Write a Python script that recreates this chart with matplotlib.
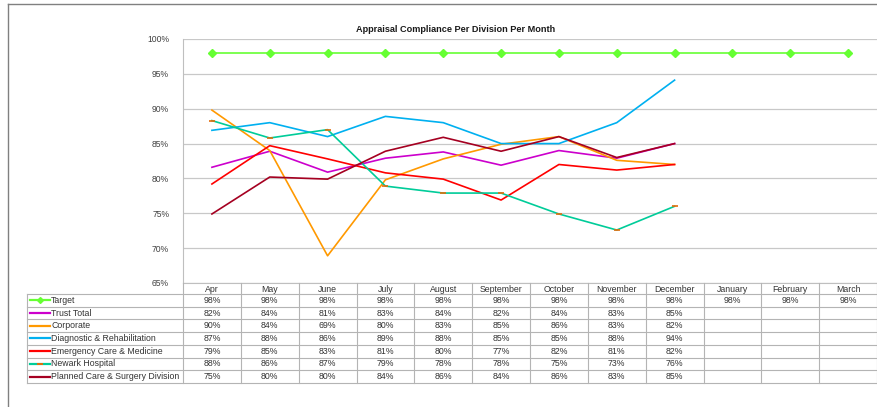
import numpy as np
import matplotlib
matplotlib.use("Agg")
import matplotlib.pyplot as plt
from matplotlib.lines import Line2D

plt.rcParams['font.family'] = ['Liberation Sans', 'DejaVu Sans']

# Months of the financial year
months = ['Apr', 'May', 'June', 'July', 'August', 'September', 'October',
          'November', 'December', 'January', 'February', 'March']

# Series values (%), None where no data yet
target = [98, 98, 98, 98, 98, 98, 98, 98, 98, 98, 98, 98]
trust_total = [81.6, 83.9, 80.9, 82.9, 83.8, 81.9, 84.0, 82.9, 85.0, None, None, None]
corporate = [89.8, 84.0, 68.9, 79.8, 82.8, 84.9, 86.0, 82.6, 82.0, None, None, None]
diagnostic = [86.9, 88.0, 86.0, 88.9, 88.0, 85.0, 85.0, 88.0, 94.1, None, None, None]
emergency = [79.2, 84.7, 82.8, 80.8, 79.9, 76.9, 82.0, 81.2, 82.0, None, None, None]
newark = [88.3, 85.8, 87.0, 78.9, 77.9, 77.9, 74.9, 72.6, 76.0, None, None, None]
planned = [74.9, 80.2, 79.9, 83.9, 85.9, 83.9, 86.0, 83.0, 85.0, None, None, None]

series_names = ['Target', 'Trust Total', 'Corporate', 'Diagnostic & Rehabilitation',
                'Emergency Care & Medicine', 'Newark Hospital', 'Planned Care & Surgery Division']
series_values = [target, trust_total, corporate, diagnostic, emergency, newark, planned]
series_colors = ['#66FF33', '#CC00CC', '#FF9900', '#00B0F0', '#FF0000', '#00CC99', '#A50021']

W, H = 877, 407
fig = plt.figure(figsize=(W / 100, H / 100), dpi=100)

def fx(p):
    return p / W

def fy(p):
    return 1 - p / H

# plot area in pixels
ax_left, ax_right, ax_top, ax_bottom = 183, 877, 39, 283
ax = fig.add_axes([fx(ax_left), fy(ax_bottom), fx(ax_right - ax_left), (ax_bottom - ax_top) / H])

x = np.arange(len(months))
for name, vals, col in zip(series_names, series_values, series_colors):
    y = np.array([np.nan if v is None else v for v in vals], dtype=float)
    if name == 'Target':
        ax.plot(x, y, color=col, lw=1.2, marker='D', ms=4, zorder=3)
    elif name == 'Newark Hospital':
        ax.plot(x, y, color=col, lw=1.2, marker='_', ms=4, mec='#E46C0A', mew=1.2, zorder=2)
    else:
        ax.plot(x, y, color=col, lw=1.2, zorder=2)

ax.set_xlim(-0.5, len(months) - 0.5)
ax.set_ylim(65, 100)
ax.set_yticks(np.arange(65, 101, 5))
ax.set_yticklabels([f"{t}%" for t in range(65, 101, 5)], fontsize=6.2, color='#404040')
ax.set_xticks([])
ax.tick_params(axis='y', length=0, pad=10)
ax.grid(axis='y', color='#C8C8C8', lw=0.9)
ax.set_axisbelow(True)
for s in ['top', 'right']:
    ax.spines[s].set_visible(False)
ax.spines['left'].set_color('#BFBFBF')
ax.spines['bottom'].set_color('#BFBFBF')

fig.text(fx(456), fy(29), 'Appraisal Compliance Per Division Per Month',
         ha='center', va='center', fontsize=6.6, fontweight='bold', color='#1a1a1a')

# data table under the chart
col_w = (ax_right - ax_left) / len(months)
label_left = 27
header_h = 11
row_h = 12.7
rows_top = ax_bottom + header_h
rows_bottom = rows_top + row_h * len(series_names)
grid_col = '#B4B4B4'
txt_col = '#333333'

def hline(x0, x1, yp):
    fig.add_artist(Line2D([fx(x0), fx(x1)], [fy(yp), fy(yp)], color=grid_col, lw=0.8))

def vline(xp, y0, y1):
    fig.add_artist(Line2D([fx(xp), fx(xp)], [fy(y0), fy(y1)], color=grid_col, lw=0.8))

for i, m in enumerate(months):
    fig.text(fx(ax_left + (i + 0.5) * col_w), fy(ax_bottom + header_h / 2 + 0.5), m,
             ha='center', va='center', fontsize=6.3, color=txt_col)

for i in range(len(months) + 1):
    vline(ax_left + i * col_w, ax_bottom, rows_bottom)
vline(label_left, rows_top, rows_bottom)

for r in range(len(series_names) + 1):
    hline(label_left, ax_right, rows_top + r * row_h)

for r, (name, vals, col) in enumerate(zip(series_names, series_values, series_colors)):
    yc = rows_top + (r + 0.5) * row_h
    fig.add_artist(Line2D([fx(30), fx(50)], [fy(yc), fy(yc)], color=col, lw=1.6))
    if name == 'Target':
        fig.add_artist(Line2D([fx(40)], [fy(yc)], color=col, marker='D', ms=3))
    if name == 'Newark Hospital':
        fig.add_artist(Line2D([fx(40)], [fy(yc)], marker='_', ms=4, mec='#E46C0A', mew=1.4))
    fig.text(fx(51), fy(yc), name, ha='left', va='center', fontsize=6.3, color=txt_col)
    for i, v in enumerate(vals):
        if v is None:
            continue
        fig.text(fx(ax_left + (i + 0.5) * col_w), fy(yc), f"{round(v)}%",
                 ha='center', va='center', fontsize=6.3, color=txt_col)

# outer chart frame (top and left edges visible)
fig.add_artist(Line2D([fx(8), 1], [fy(4), fy(4)], color='#808080', lw=1))
fig.add_artist(Line2D([fx(8), fx(8)], [fy(4), 0], color='#808080', lw=1))

fig.savefig('out.png', dpi=100)
